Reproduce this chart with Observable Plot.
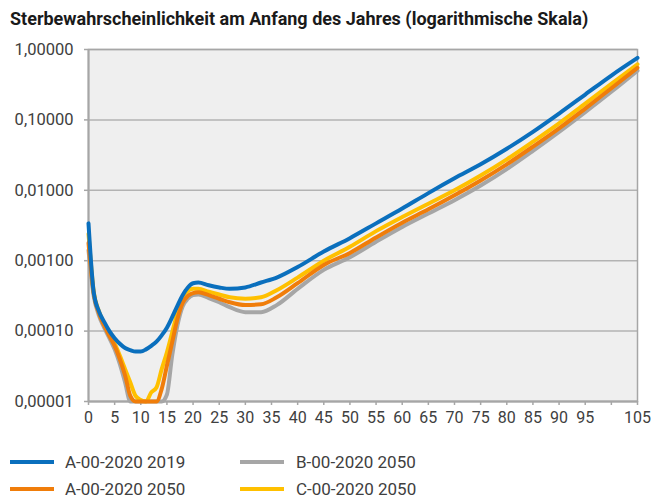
<!DOCTYPE html>
<html>
<head>
<meta charset="utf-8">
<script src="https://cdn.jsdelivr.net/npm/d3@7"></script>
<script src="https://cdn.jsdelivr.net/npm/@observablehq/plot@0.6"></script>
<style>
  html, body { margin: 0; padding: 0; background: #ffffff; }
  #wrap { position: relative; width: 654px; height: 500px; overflow: hidden; font-family: Roboto, sans-serif; }
  #title { position: absolute; left: 10px; top: 8px; font-size: 18px; font-weight: 700; color: #1a1a1a; white-space: nowrap; line-height: 22px; }
  #chart { position: absolute; left: 0; top: 0; }
  .leg { position: absolute; font-size: 17px; color: #404040; white-space: nowrap; line-height: 20px; }
  .sw { position: absolute; height: 4px; width: 44px; }
</style>
</head>
<body>
<div id="wrap">
  <div id="chart"></div>
  <div id="title">Sterbewahrscheinlichkeit am Anfang des Jahres (logarithmische Skala)</div>
  <div id="legend"></div>
</div>
<script>
// ---- data ----
const ages = [0,1,2,3,4,5,6,7,8,9,10,11,12,13,14,15,16,17,18,19,20,21,23,25,27,30,33,36,40,45,50,55,60,65,70,75,80,85,90,95,100,105];

const seriesNames = ["A-00-2020 2019", "B-00-2020 2050", "A-00-2020 2050", "C-00-2020 2050"];

const qA2019 = [0.00339,0.000355,0.000191,0.000135,0.000100,0.0000794,0.0000661,0.0000575,0.0000537,0.0000513,0.0000513,0.0000550,0.0000617,0.0000708,0.0000871,0.000112,0.000158,0.000229,0.000324,0.000417,0.000479,0.000490,0.000447,0.000417,0.000398,0.000417,0.000490,0.000575,0.000813,0.00135,0.00209,0.00339,0.00550,0.00912,0.0148,0.0234,0.0389,0.0676,0.123,0.229,0.427,0.759];

const qA2050 = [0.00178,0.000339,0.000178,0.000120,0.0000851,0.0000617,0.0000398,0.0000234,0.0000120,0.00001,0.00001,0.00001,0.00001,0.00001,0.0000151,0.0000324,0.0000692,0.000148,0.000251,0.000316,0.000347,0.000355,0.000324,0.000288,0.000257,0.000234,0.000240,0.000302,0.000479,0.000871,0.00129,0.00214,0.00347,0.00537,0.00851,0.0138,0.0234,0.0417,0.0759,0.145,0.282,0.550];

const qB2050 = [0.00141,0.000316,0.000166,0.000112,0.0000794,0.0000550,0.0000339,0.0000186,0.00001,0.00001,0.00001,0.00001,0.00001,0.00001,0.00001,0.0000126,0.0000447,0.000120,0.000224,0.000288,0.000324,0.000331,0.000295,0.000257,0.000219,0.000186,0.000186,0.000234,0.000398,0.000741,0.00112,0.00186,0.00302,0.00468,0.00724,0.0117,0.0200,0.0363,0.0676,0.129,0.251,0.501];

const qC2050 = [0.00240,0.000363,0.000191,0.000126,0.0000891,0.0000661,0.0000447,0.0000288,0.0000186,0.0000120,0.0000105,0.00001,0.0000135,0.0000158,0.0000288,0.0000501,0.0000955,0.000182,0.000302,0.000372,0.000398,0.000398,0.000363,0.000331,0.000302,0.000288,0.000302,0.000380,0.000575,0.00100,0.00158,0.00263,0.00417,0.00646,0.0100,0.0162,0.0275,0.0490,0.0891,0.170,0.324,0.617];

const colors = ["#0a6fbd", "#a6a6a6", "#f07d0a", "#ffc000"];
const yTicks = [1, 0.1, 0.01, 0.001, 0.0001, 0.00001];
const xTicks = [0,5,10,15,20,25,30,35,40,45,50,55,60,65,70,75,80,85,90,95,100,105];
const xLabels = ["0","5","10","15","20","25","30","35","40","45","50","55","60","65","70","75","80","85","90","95","","105"];

// ---- build table ----
const valuesBySeries = {
  "A-00-2020 2019": qA2019,
  "B-00-2020 2050": qB2050,
  "A-00-2020 2050": qA2050,
  "C-00-2020 2050": qC2050
};
const drawOrder = ["B-00-2020 2050", "C-00-2020 2050", "A-00-2020 2050", "A-00-2020 2019"];
const rows = [];
for (const s of drawOrder) {
  valuesBySeries[s].forEach((q, i) => rows.push({ age: ages[i], q, series: s }));
}

const fmtY = d => d.toFixed(5).replace(".", ",");
const fmtX = d => xLabels[xTicks.indexOf(d)];

const chart = Plot.plot({
  width: 654,
  height: 431,
  marginLeft: 88,
  marginRight: 17,
  marginTop: 49,
  marginBottom: 30,
  style: { background: "transparent", fontFamily: "Roboto, sans-serif", fontSize: "16px", color: "#404040" },
  x: { domain: [0, 105], label: null, axis: null },
  y: { type: "log", domain: [0.00001, 1], label: null, axis: null },
  color: { domain: seriesNames, range: colors },
  marks: [
    Plot.frame({ fill: "#efefef" }),
    Plot.gridY(yTicks, { stroke: "#b3b3b3", strokeOpacity: 1, strokeWidth: 1.5 }),
    Plot.frame({ stroke: "#a6a6a6", strokeWidth: 1.5 }),
    Plot.axisX(xTicks, { tickFormat: fmtX, tickSize: 4, tickPadding: 6, stroke: "#a6a6a6", strokeWidth: 1.5, fill: "#404040", label: null, fontSize: 16 }),
    Plot.axisY(yTicks, { tickFormat: fmtY, tickSize: 4, tickPadding: 11, stroke: "#a6a6a6", strokeWidth: 1.5, fill: "#404040", label: null, fontSize: 16.5 }),
    Plot.ruleX([0], { stroke: "#a6a6a6", strokeWidth: 2 }),
    Plot.ruleY([0.00001], { stroke: "#a6a6a6", strokeWidth: 2 }),
    Plot.lineY(rows, { x: "age", y: "q", z: "series", stroke: "series", strokeWidth: 4, curve: "monotone-x" })
  ]
});
document.getElementById("chart").appendChild(chart);

// ---- legend ----
const legend = document.getElementById("legend");
const legPos = [
  { sx: 10, tx: 65, y: 462 },
  { sx: 240, tx: 296, y: 462 },
  { sx: 10, tx: 65, y: 489 },
  { sx: 240, tx: 296, y: 489 }
];
seriesNames.forEach((name, i) => {
  const p = legPos[i];
  const sw = document.createElement("div");
  sw.className = "sw";
  sw.style.left = p.sx + "px";
  sw.style.top = (p.y - 2) + "px";
  sw.style.background = colors[i];
  legend.appendChild(sw);
  const t = document.createElement("div");
  t.className = "leg";
  t.style.left = p.tx + "px";
  t.style.top = (p.y - 10) + "px";
  t.textContent = name;
  legend.appendChild(t);
});
</script>
</body>
</html>
